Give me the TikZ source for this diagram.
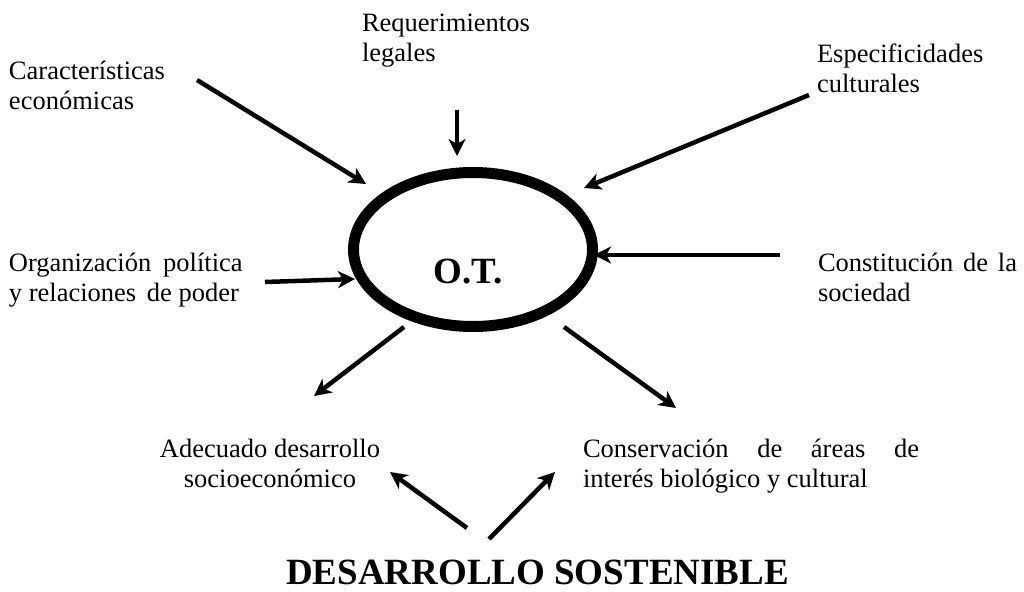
\documentclass[tikz,border=0pt]{standalone}
\usepackage{fontspec}
\setmainfont{Liberation Serif}
\usetikzlibrary{arrows.meta}
\tikzset{
  lbl/.style={inner sep=0pt, outer sep=0pt, anchor=base west, font=\fontsize{26.5}{30}\selectfont},
  big/.style={inner sep=0pt, outer sep=0pt, anchor=base, font=\fontsize{37}{40}\selectfont\bfseries},
  arr/.style={line width=4.5pt, -{Stealth[length=17pt,width=17pt,inset=5pt]}},
  oval/.style={draw, line width=11pt}
}
\begin{document}
\begin{tikzpicture}[x=1pt,y=-1pt]
\useasboundingbox (0,0) rectangle (1024,591);
% central ellipse
\draw[oval] (473,249.5) ellipse [x radius=119.5, y radius=77];
\node[big] (ot) at (468,283) {O.T.};
% labels
\node[lbl] (eco) at (9,80) {\begin{tabular}[t]{@{}l@{}}Características\\económicas\end{tabular}};
\node[lbl] (leg) at (362,32) {\begin{tabular}[t]{@{}l@{}}Requerimientos\\legales\end{tabular}};
\node[lbl] (cul) at (817,63) {\begin{tabular}[t]{@{}l@{}}Especificidades\\culturales\end{tabular}};
\node[lbl] (pol) at (9,271) {\begin{tabular}[t]{@{}l@{}}Organización\hspace{0.45em}política\\y relaciones\hspace{0.4em}de poder\end{tabular}};
\node[lbl] (soc) at (818,271) {\begin{tabular}[t]{@{}l@{}}\hbox to 199pt{Constitución\hfill de\hfill la}\\sociedad\end{tabular}};
\node[lbl, anchor=base] (ade) at (270,457) {\begin{tabular}[t]{@{}c@{}}Adecuado desarrollo\\socioeconómico\end{tabular}};
\node[lbl] (con) at (583,457) {\begin{tabular}[t]{@{}l@{}}\hbox to 336pt{Conservación\hfill de\hfill áreas\hfill de}\\interés biológico y cultural\end{tabular}};
\node[big] (ds) at (537.5,584) {DESARROLLO SOSTENIBLE};
% arrow end points
\coordinate (a1s) at (197,80);  \coordinate (a1e) at (366,184);
\coordinate (a2s) at (457,110); \coordinate (a2e) at (457,156);
\coordinate (a3s) at (809,95);  \coordinate (a3e) at (584,188);
\coordinate (a4s) at (265,282); \coordinate (a4e) at (355,279);
\coordinate (a5s) at (780,255); \coordinate (a5e) at (594,255);
\coordinate (a6s) at (404,327); \coordinate (a6e) at (314,396);
\coordinate (a7s) at (564,327); \coordinate (a7e) at (676,408);
\coordinate (a8s) at (467,528); \coordinate (a8e) at (390,472);
\coordinate (a9s) at (489,539); \coordinate (a9e) at (555,472);
\draw[arr] (a1s) -- (a1e);
\draw[arr] (a2s) -- (a2e);
\draw[arr] (a3s) -- (a3e);
\draw[arr] (a4s) -- (a4e);
\draw[arr] (a5s) -- (a5e);
\draw[arr] (a6s) -- (a6e);
\draw[arr] (a7s) -- (a7e);
\draw[arr] (a8s) -- (a8e);
\draw[arr] (a9s) -- (a9e);
\end{tikzpicture}
\end{document}
